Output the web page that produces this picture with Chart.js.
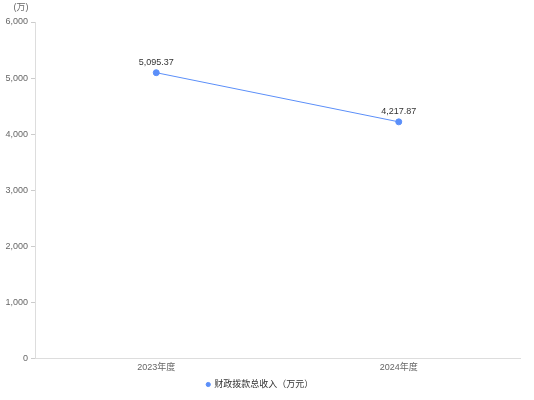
<!DOCTYPE html>
<html>
<head>
<meta charset="utf-8">
<script src="https://cdn.jsdelivr.net/npm/chart.js@4/dist/chart.umd.min.js"></script>
<style>
  body { margin: 0; background: #fff; }
  #wrap { width: 534px; height: 400px; }
</style>
</head>
<body>
<div id="wrap"><canvas id="chart" width="534" height="400"></canvas></div>
<script>
const years = ["2023年度", "2024年度"];
const income = [5095.37, 4217.87];
const yTicks = [0, 1000, 2000, 3000, 4000, 5000, 6000];

const font = "'Liberation Sans', 'Noto Sans CJK SC', sans-serif";

// value labels over points + unit text at top left
const labelPlugin = {
  id: "labels",
  afterDatasetsDraw(chart) {
    const ctx = chart.ctx;
    ctx.save();
    ctx.font = "9px " + font;
    ctx.fillStyle = "#333";
    ctx.textAlign = "center";
    ctx.textBaseline = "bottom";
    chart.getDatasetMeta(0).data.forEach((pt, i) => {
      ctx.fillText(income[i].toLocaleString("en-US", { minimumFractionDigits: 2 }), pt.x, pt.y - 6);
    });
    ctx.fillStyle = "#666";
    ctx.textBaseline = "middle";
    ctx.fillText("(万)", 21, 8);
    ctx.restore();
  }
};

new Chart(document.getElementById("chart"), {
  type: "line",
  data: {
    labels: years,
    datasets: [{
      label: "财政拨款总收入（万元）",
      data: income,
      borderColor: "#5b8ff9",
      backgroundColor: "#5b8ff9",
      borderWidth: 1,
      pointRadius: 3,
      pointHoverRadius: 3,
      tension: 0
    }]
  },
  options: {
    responsive: false,
    animation: false,
    layout: { padding: { top: 22, right: 14, left: 0, bottom: 1 } },
    plugins: {
      legend: {
        position: "bottom",
        labels: {
          usePointStyle: true,
          pointStyle: "circle",
          boxWidth: 3,
          boxHeight: 3,
          color: "#333",
          font: { size: 9, family: font },
          padding: 3
        }
      },
      tooltip: { enabled: false }
    },
    scales: {
      x: {
        offset: true,
        grid: { display: false, drawTicks: false },
        border: { color: "#ddd" },
        ticks: { color: "#666", font: { size: 9, family: font }, padding: 4, autoSkip: false, maxRotation: 0 }
      },
      y: {
        min: 0,
        max: 6000,
        afterFit: s => { s.width = 35; },
        afterBuildTicks: s => { s.ticks = yTicks.map(v => ({ value: v })); },
        grid: { display: true, drawOnChartArea: false, drawTicks: true, tickLength: 4, color: "#ccc" },
        border: { color: "#ddd" },
        ticks: {
          color: "#666",
          font: { size: 9, family: font },
          padding: 3,
          callback: v => v.toLocaleString("en-US")
        }
      }
    }
  },
  plugins: [labelPlugin]
});
</script>
</body>
</html>
